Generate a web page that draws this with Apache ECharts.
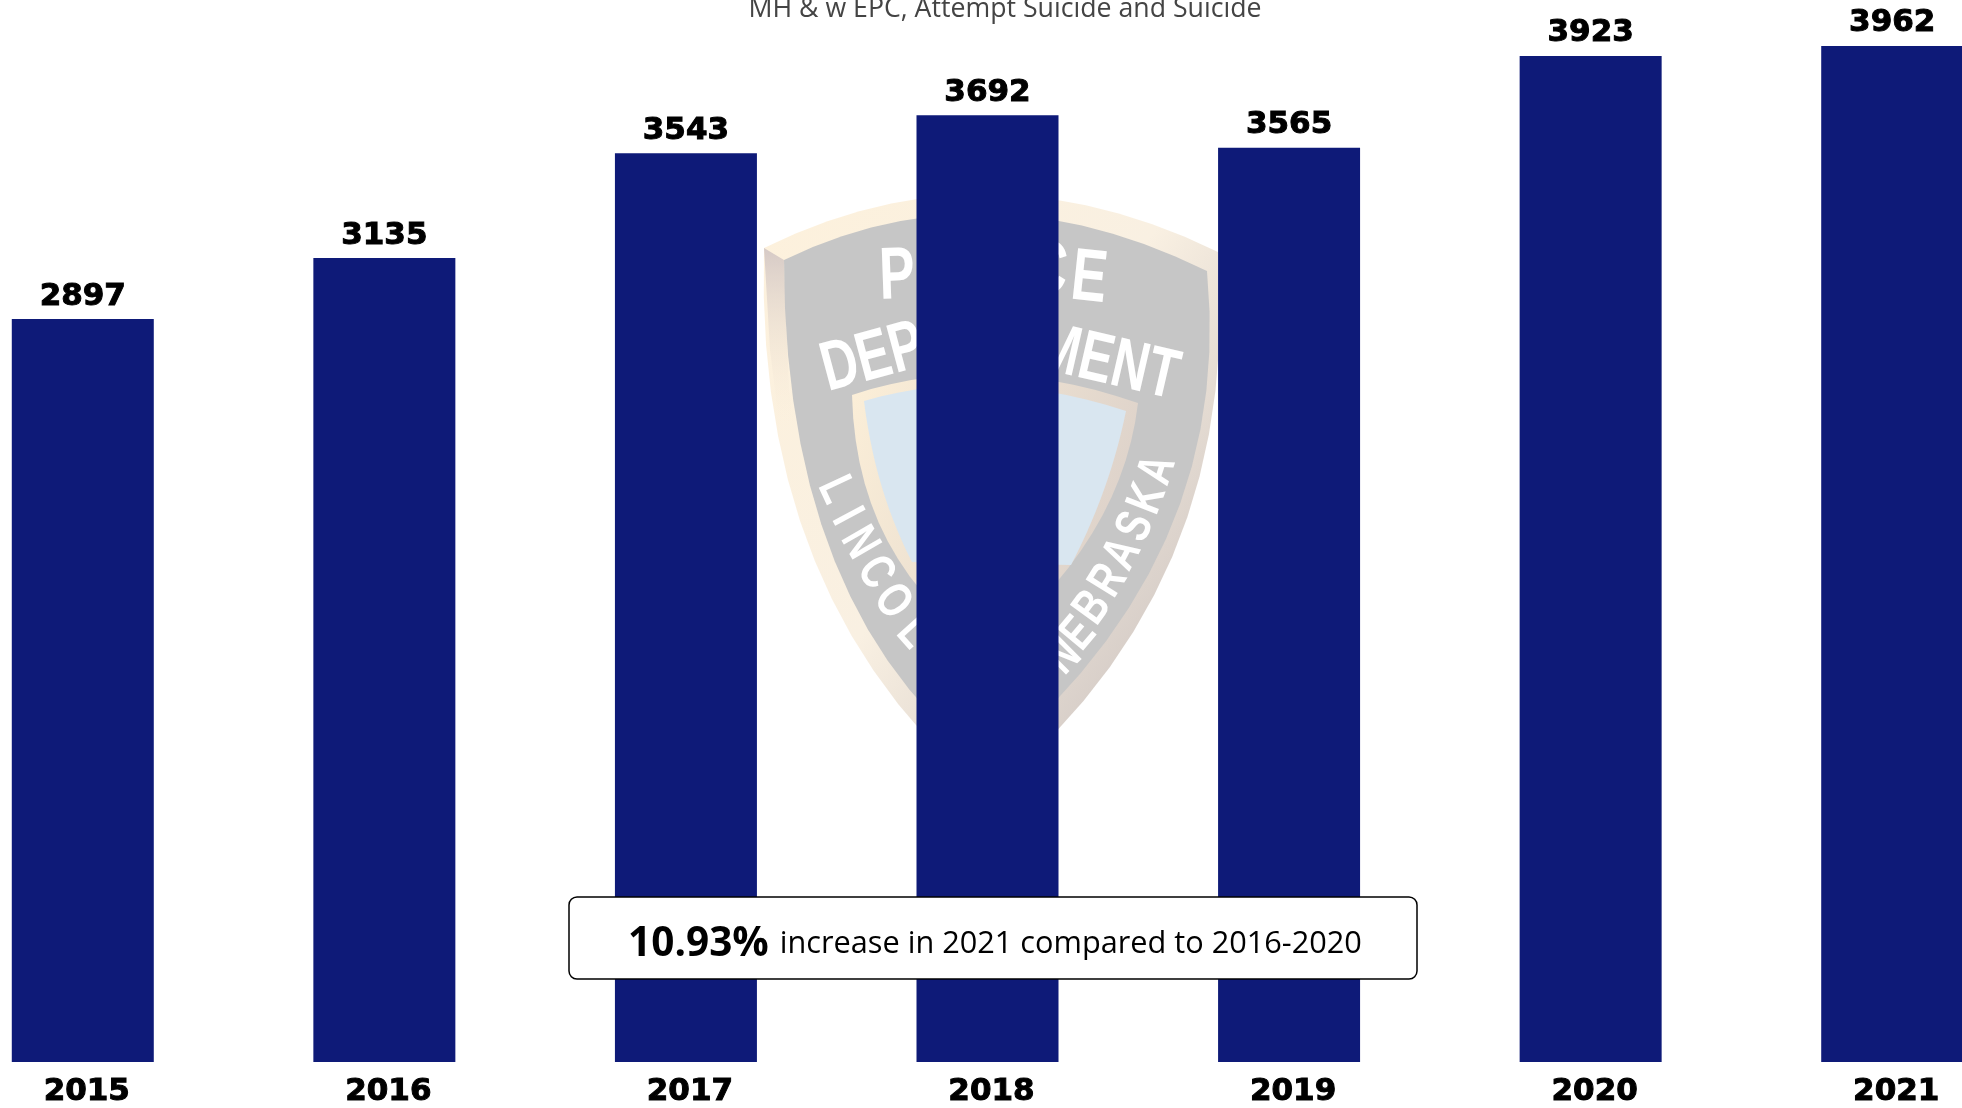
<!DOCTYPE html>
<html><head><meta charset="utf-8">
<style>html,body{margin:0;padding:0;background:#fff}#c{width:1962px;height:1108px}</style>
<script src="https://cdn.jsdelivr.net/npm/echarts@6/dist/echarts.min.js"></script>
</head><body><div id="c"></div>
<script>
const years = ['2015','2016','2017','2018','2019','2020','2021'];
const counts = [2897,3135,3543,3692,3565,3923,3962];
const chartTitle = 'MH & w EPC, Attempt Suicide and Suicide';
const calloutBold = '10.93%';
const calloutText = 'increase in 2021 compared to 2016-2020';

// Decorative watermark helpers
function q(p0,c,p1,n=14){const o=[];for(let i=0;i<=n;i++){const t=i/n,u=1-t;o.push([u*u*p0[0]+2*u*t*c[0]+t*t*p1[0],u*u*p0[1]+2*u*t*c[1]+t*t*p1[1]]);}return o;}
const shield=(tl,tc,tr,lc,rc,tip)=>[...q(tl,tc,tr),...q(tr,rc,tip),...q(tip,lc,tl)];
const poly=(points,fill,z)=>({type:'polygon',z:z,silent:true,shape:{points},style:{fill}});
const G=echarts.graphic.LinearGradient;
const rim=new G(0,0,1,0.55,[{offset:0,color:'#fdf1dc'},{offset:0.6,color:'#f9f0e2'},{offset:1,color:'#d8cfc9'}]);
const panelRim=new G(0,0,1,0.4,[{offset:0,color:'#fcefd8'},{offset:1,color:'#ddd2ca'}]);
const facet=new G(0,0,0,1,[{offset:0,color:'#d6cac6'},{offset:1,color:'rgba(253,241,220,0)'}]);
const letter=(t,x,y,rot,size,sx)=>({type:'text',z:-5,silent:true,x,y,rotation:rot*Math.PI/180,scaleX:sx||0.72,
  style:{text:t,fill:'#fff',font:'bold '+size+'px "Liberation Sans"',align:'center',verticalAlign:'middle'}});
const logo=[
  poly(shield([764,248],[985,138],[1218,252],[754,600],[1242,590],[987,795]),rim,-10),
  poly([[764,248],[784,260],[789,390],[795,430],[780,430],[770,350]],facet,-9),
  poly(shield([784,260],[985,162],[1207,271],[784,610],[1235,560],[987,765]),'#c6c6c6',-8),
  poly(shield([852,395],[985,350],[1138,403],[856,560],[1122,540],[987,650]),panelRim,-7),
  poly([...q([864,401],[985,365],[1126,411]),...q([1126,411],[1110,490],[1071,565]),...q([912,562],[875,490],[864,401])],'#d9e6f0',-6),
  letter('P',897,278,2,74),letter('O',945,274,1,74),letter('C',1048,272,-4,74),letter('E',1089,280,-6,74),
  letter('DEP',873,359,15,70,0.72),letter('MENT',1108,364,-13,70,0.72),
  letter('L',835,490,-65,50,.75),letter('I',846,517,-62,50,.75),letter('N',859,543,-60,50,.75),letter('C',875,573,-56,50,.75),
  letter('O',892,602,-52,50,.75),letter('L',913,633,-48,50,.75),
  letter('N',1064,657,45,50,.75),letter('E',1079,634,50,50,.75),letter('B',1093,608,54,50,.75),letter('R',1109,581,58,50,.75),
  letter('A',1123,554,62,50,.75),letter('S',1136,527,65,50,.75),letter('K',1148,499,69,50,.75),letter('A',1158,470,72,50,.75)
];

const callout=[
 {type:'rect',z:50,silent:true,shape:{x:569,y:897,width:848,height:82,r:8},style:{fill:'#fff',stroke:'#000',lineWidth:1.5}},
 {type:'text',z:51,silent:true,x:995,y:944,style:{
   text:'{b|'+calloutBold+'}{n| '+calloutText+'}',align:'center',verticalAlign:'middle',
   rich:{b:{font:'bold 40.5px "Open Sans"',fill:'#000'},n:{font:'30.7px "Open Sans"',fill:'#000',padding:[0,0,0,3]}}}}
];
const titleEl={type:'text',z:5,silent:true,x:1005,y:9,style:{text:chartTitle,font:'26.7px "Open Sans"',fill:'#444',align:'center',verticalAlign:'middle'}};

const chart=echarts.init(document.getElementById('c'),null,{renderer:'canvas'});
chart.setOption({
  animation:false,backgroundColor:'#fff',
  grid:{left:-68,right:-81,top:10.5,bottom:46,containLabel:false,outerBoundsMode:'none'},
  xAxis:{type:'category',data:years,axisLine:{show:false},axisTick:{show:false},
    axisLabel:{interval:0,margin:14,padding:[0,0,0,8],color:'#000',fontFamily:'DejaVu Sans',fontWeight:'bold',fontSize:31,textBorderColor:'#000',textBorderWidth:1}},
  yAxis:{type:'value',min:0,max:4100,show:false,splitLine:{show:false}},
  series:[{type:'bar',data:counts,barWidth:142,itemStyle:{color:'#0e1a78'},z:2,
    label:{show:true,position:'top',distance:7,color:'#000',fontFamily:'DejaVu Sans',fontWeight:'bold',fontSize:31,textBorderColor:'#000',textBorderWidth:1}}],
  graphic:{elements:[titleEl,...logo,...callout]}
});
</script></body></html>
